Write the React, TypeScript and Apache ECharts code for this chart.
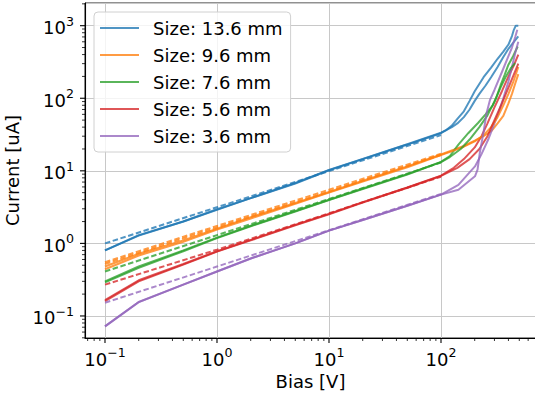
import React, { useEffect, useRef } from 'react';
import * as echarts from 'echarts';

// ---------- data ----------
const SIZES = ['Size: 13.6 mm', 'Size: 9.6 mm', 'Size: 7.6 mm', 'Size: 5.6 mm', 'Size: 3.6 mm'];
const RGB = ['31,119,180', '255,127,14', '44,160,44', '214,39,40', '148,103,189'];

const LOW_BIAS = [0.1, 0.2, 0.5, 1, 2, 5, 10, 20, 50, 100];
const FIT_BIAS = [0.1, 1, 10, 100];

// 13.6 mm
const S136_A_LOW = [0.8, 1.28, 2.0, 2.9, 4.2, 6.7, 10.2, 14.5, 23, 33];
const S136_A_HV = [110, 125, 140, 160, 180, 200, 240, 280, 320, 360, 400, 430, 445, 465, 490];
const S136_A_HI = [36, 42, 52, 66, 92, 125, 195, 265, 350, 440, 550, 720, 860, 1000, 1000];
const S136_B_LOW = [0.8, 1.3, 2.0, 2.95, 4.2, 6.8, 10.3, 14.6, 23.2, 33.5];
const S136_B_HV = [110, 125, 140, 160, 180, 200, 220, 250, 280, 320, 360, 400, 440, 490];
const S136_B_HI = [36, 40, 45, 55, 70, 92, 115, 150, 195, 270, 370, 480, 580, 710];
const S136_FIT = [1.0, 3.15, 9.9, 31];

// 9.6 mm
const S96_A_LOW = [0.48, 0.72, 1.1, 1.6, 2.3, 3.6, 5.1, 7.3, 11.5, 16.8];
const S96_A_HV = [130, 160, 200, 240, 285, 320, 360, 400, 430, 460, 490];
const S96_A_HI = [19.5, 22, 26, 30, 36, 45, 57, 85, 115, 160, 215];
const S96_B_LOW = [0.44, 0.68, 1.05, 1.55, 2.2, 3.5, 5.0, 7.1, 11.2, 16.5];
const S96_B_HV = [130, 160, 200, 240, 280, 320, 360, 400, 440, 490];
const S96_B_HI = [19, 21.5, 25.5, 31, 40, 55, 80, 115, 165, 270];
const S96_FIT_A = [0.55, 1.74, 5.5, 17.2];
const S96_FIT_B = [0.52, 1.65, 5.2, 16.5];

// 7.6 mm
const S76_A_LOW = [0.3, 0.48, 0.8, 1.2, 1.75, 2.8, 4.0, 5.7, 9.0, 13.3];
const S76_A_HV = [120, 143, 175, 215, 250, 290, 310, 340, 370, 400, 440, 484];
const S76_A_HI = [16, 23, 33, 46, 60, 80, 100, 150, 210, 290, 380, 517];
const S76_B_LOW = [0.29, 0.46, 0.78, 1.18, 1.72, 2.75, 3.95, 5.6, 8.9, 13.2];
const S76_B_HV = [120, 150, 180, 220, 260, 300, 340, 380, 420, 458];
const S76_B_HI = [15.5, 20, 27, 40, 58, 90, 140, 200, 260, 305];
const S76_FIT = [0.41, 1.3, 4.1, 13];

// 5.6 mm
const S56_A_LOW = [0.166, 0.31, 0.52, 0.78, 1.12, 1.8, 2.55, 3.7, 5.9, 8.6];
const S56_A_HV = [130, 160, 200, 230, 260, 300, 350, 400, 450, 490];
const S56_A_HI = [11, 14.5, 21, 30, 45, 75, 125, 200, 290, 400];
const S56_B_LOW = [0.16, 0.3, 0.51, 0.77, 1.1, 1.78, 2.52, 3.65, 5.85, 8.5];
const S56_B_HV = [140, 180, 220, 260, 300, 350, 400, 440, 490];
const S56_B_HI = [11, 14.5, 20, 30, 50, 85, 140, 200, 300];
const S56_FIT = [0.27, 0.82, 2.6, 8.3];

// 3.6 mm
const S36_A_LOW = [0.072, 0.156, 0.27, 0.41, 0.62, 1.0, 1.5, 2.1, 3.3, 4.7];
const S36_A_HV = [143, 201, 230, 264, 300, 325, 360, 400, 430, 460, 490];
const S36_A_HI = [6.4, 11.5, 17, 27, 45, 62, 100, 170, 270, 420, 600];
const S36_B_LOW = [0.072, 0.155, 0.27, 0.41, 0.62, 1.0, 1.5, 2.1, 3.3, 4.7];
const S36_B_HV = [143, 201, 212, 222, 239, 255, 274, 300, 350, 400, 430, 460, 480];
const S36_B_HI = [5.5, 8.4, 10.4, 17.6, 33, 62, 95, 130, 230, 380, 500, 700, 880];
const S36_FIT = [0.152, 0.48, 1.52, 4.8];

const X_MIN = 0.0663;
const X_MAX = 705;
const Y_MIN = 0.0497;
const Y_MAX = 2054;

const FONT = 'DejaVu Sans';

// ---------- helpers ----------
const pairs = (xs: number[], ys: number[]) => xs.map((x, i) => [x, ys[i]]);
const measured = (low: number[], hv: number[], hi: number[]) =>
  pairs(LOW_BIAS, low).concat(pairs(hv, hi));

function logTicks(min: number, max: number) {
  const major: number[] = [];
  const minor: number[] = [];
  for (let d = -3; d <= 4; d++) {
    for (let k = 1; k <= 9; k++) {
      const v = k * Math.pow(10, d);
      if (v >= min * 0.9999 && v <= max * 1.0001) (k === 1 ? major : minor).push(v);
    }
  }
  return { major, minor };
}

const fmt = (v: number) => {
  const e = Math.log10(v);
  const r = Math.round(e);
  if (Math.abs(e - r) > 1e-6) return '';
  const s = r < 0 ? '\u2212' + -r : String(r);
  return '{b|10}{s|' + s + '}';
};

const rich = {
  b: { fontSize: 18, fontFamily: FONT, color: '#000', lineHeight: 22, verticalAlign: 'bottom' },
  s: { fontSize: 12.6, fontFamily: FONT, color: '#000', lineHeight: 14, verticalAlign: 'top' },
};

export default function App() {
  const ref = useRef<HTMLDivElement>(null);

  useEffect(() => {
    if (!ref.current) return;
    const chart = echarts.init(ref.current, undefined, { renderer: 'svg' });

    const series: any[] = [];
    const solid = (idx: number, data: number[][]) => {
      const c = `rgba(${RGB[idx]},0.78)`;
      series.push({
        name: SIZES[idx], type: 'line', data, showSymbol: false, symbol: 'none',
        lineStyle: { width: 2, color: c }, itemStyle: { color: c }, silent: true, z: 3,
      });
    };
    const dashed = (idx: number, fit: number[]) => {
      const c = `rgba(${RGB[idx]},0.78)`;
      series.push({
        name: SIZES[idx], type: 'line', data: pairs(FIT_BIAS, fit), showSymbol: false, symbol: 'none',
        lineStyle: { width: 2, color: c, type: [5.5, 2.6] }, itemStyle: { color: c }, silent: true, z: 3,
      });
    };

    solid(0, measured(S136_A_LOW, S136_A_HV, S136_A_HI));
    solid(1, measured(S96_A_LOW, S96_A_HV, S96_A_HI));
    solid(2, measured(S76_A_LOW, S76_A_HV, S76_A_HI));
    solid(3, measured(S56_A_LOW, S56_A_HV, S56_A_HI));
    solid(4, measured(S36_A_LOW, S36_A_HV, S36_A_HI));
    solid(0, measured(S136_B_LOW, S136_B_HV, S136_B_HI));
    solid(1, measured(S96_B_LOW, S96_B_HV, S96_B_HI));
    solid(2, measured(S76_B_LOW, S76_B_HV, S76_B_HI));
    solid(3, measured(S56_B_LOW, S56_B_HV, S56_B_HI));
    solid(4, measured(S36_B_LOW, S36_B_HV, S36_B_HI));
    dashed(0, S136_FIT);
    dashed(1, S96_FIT_A);
    dashed(1, S96_FIT_B);
    dashed(2, S76_FIT);
    dashed(3, S56_FIT);
    dashed(4, S36_FIT);

    const xt = logTicks(X_MIN, X_MAX);
    const yt = logTicks(Y_MIN, Y_MAX);
    const xTickData = xt.major.map((v) => [v, Y_MIN, 5]).concat(xt.minor.map((v) => [v, Y_MIN, 3]));
    const yTickData = yt.major.map((v) => [X_MIN, v, 5]).concat(yt.minor.map((v) => [X_MIN, v, 3]));

    series.push({
      type: 'custom', silent: true, clip: false, z: 10,
      data: xTickData, encode: { x: 0, y: 1 },
      renderItem: (params: any, api: any) => {
        const p = api.coord([api.value(0), Y_MIN]);
        const cs = params.coordSys;
        const yb = cs.y + cs.height;
        const len = api.value(2);
        return {
          type: 'line',
          shape: { x1: p[0], y1: yb, x2: p[0], y2: yb + len },
          style: { stroke: '#000', lineWidth: len > 4 ? 1.1 : 0.8 },
        };
      },
    });
    series.push({
      type: 'custom', silent: true, clip: false, z: 10,
      data: yTickData, encode: { x: 0, y: 1 },
      renderItem: (params: any, api: any) => {
        const p = api.coord([X_MIN, api.value(1)]);
        const cs = params.coordSys;
        const xl = cs.x;
        const len = api.value(2);
        return {
          type: 'line',
          shape: { x1: xl, y1: p[1], x2: xl - len, y2: p[1] },
          style: { stroke: '#000', lineWidth: len > 4 ? 1.1 : 0.8 },
        };
      },
    });

    chart.setOption({
      animation: false,
      backgroundColor: '#fff',
      grid: {
        left: 85, top: 3, right: -1, bottom: 58, containLabel: false, outerBoundsMode: 'none',
        show: true, borderColor: '#222', borderWidth: 1, backgroundColor: 'transparent',
      },
      legend: {
        data: SIZES, orient: 'vertical', left: 94, top: 12,
        padding: [7, 8, 7, 6], itemGap: 9, itemWidth: 39, itemHeight: 2, icon: 'rect',
        textStyle: { fontSize: 18, fontFamily: FONT, color: '#000', lineHeight: 18, padding: [0, 0, 0, 9] },
        backgroundColor: 'rgba(255,255,255,0.8)', borderColor: '#d0d0d0', borderWidth: 1, borderRadius: 4,
        selectedMode: false,
      },
      xAxis: {
        type: 'log', logBase: 10, min: X_MIN, max: X_MAX,
        name: 'Bias [V]', nameLocation: 'middle', nameGap: 27,
        nameTextStyle: { fontSize: 18, fontFamily: FONT, color: '#000' },
        axisLine: { show: true, lineStyle: { color: '#000', width: 1.1 } },
        axisTick: { show: false },
        axisLabel: { formatter: fmt, rich, margin: 8, showMinLabel: false, showMaxLabel: false },
        splitLine: { show: true, lineStyle: { color: '#c8c8c8', width: 1 } },
        minorTick: { show: false }, minorSplitLine: { show: false },
      },
      yAxis: {
        type: 'log', logBase: 10, min: Y_MIN, max: Y_MAX,
        name: 'Current [uA]', nameLocation: 'middle', nameRotate: 90, nameGap: 57,
        nameTextStyle: { fontSize: 18, fontFamily: FONT, color: '#000' },
        axisLine: { show: true, lineStyle: { color: '#000', width: 1.1 } },
        axisTick: { show: false },
        axisLabel: { formatter: fmt, rich, margin: 11, showMinLabel: false, showMaxLabel: false },
        splitLine: { show: true, lineStyle: { color: '#c8c8c8', width: 1 } },
        minorTick: { show: false }, minorSplitLine: { show: false },
      },
      series,
    });

    return () => chart.dispose();
  }, []);

  return (
    <div
      ref={ref}
      style={{ position: 'absolute', left: 0, top: 0, width: 535, height: 396 }}
    />
  );
}
